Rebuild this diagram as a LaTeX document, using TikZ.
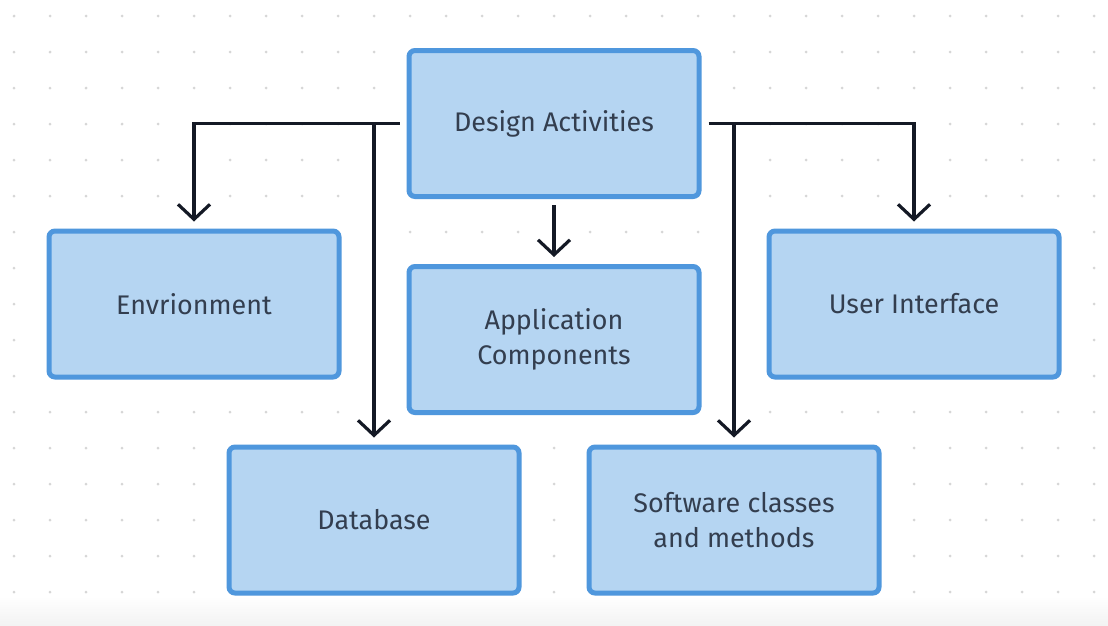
\documentclass[tikz,border=0pt]{standalone}
\usepackage{fontspec}
\setmainfont{Fira Sans}
\usepackage{tikz}
\usetikzlibrary{arrows.meta,shadows}

\definecolor{boxfill}{HTML}{B5D5F2}
\definecolor{boxline}{HTML}{4F97DD}
\definecolor{ink}{HTML}{141925}
\definecolor{labelink}{HTML}{333E4F}
\definecolor{griddot}{HTML}{D6D6D6}

\tikzset{
  box/.style={draw=boxline,fill=boxfill,line width=5bp,rounded corners=6bp,
    minimum width=290bp,minimum height=146bp,align=center,text=labelink,
    font=\fontsize{27}{35}\selectfont,
    drop shadow={shadow xshift=0bp,shadow yshift=-2bp,opacity=0.12,fill=black}},
  link/.style={draw=ink,line width=3.2bp,shorten >=7bp,
    -{Straight Barb[length=15bp,width=32bp,line width=3.2bp]}}
}

\begin{document}
\begin{tikzpicture}

\useasboundingbox[fill=white] (0bp,0bp) rectangle (1108bp,-626bp);
\shade[top color=white,bottom color=black!5] (0bp,-596bp) rectangle (1108bp,-626bp);
\foreach \i in {0,...,30}
  \foreach \j in {0,...,16}
    \fill[griddot] ({(14+36*\i)*1bp},{-(16+36*\j)*1bp}) circle (1.5bp);

\node (DA) at (554bp,-123.5bp)[box] {Design Activities};
\node (EN) at (194bp,-304bp)[box] {Envrionment};
\node (AC) at (554bp,-339.5bp)[box] {Application\\Components};
\node (UI) at (914bp,-304bp)[box] {User Interface};
\node (DB) at (374bp,-520bp)[box] {Database};
\node (SW) at (734bp,-520bp)[box] {Software classes\\and methods};
\draw [link] ([xshift=-7bp]DA.west) -| (EN.north);
\draw [link] (DB.north |- DA.west) -- (DB.north);
\draw [link] ([xshift=7bp]DA.east) -| (UI.north);
\draw [link] (SW.north |- DA.east) -- (SW.north);
\draw [link] ([yshift=-6bp]DA.south) -- (AC.north);
\end{tikzpicture}
\end{document}
